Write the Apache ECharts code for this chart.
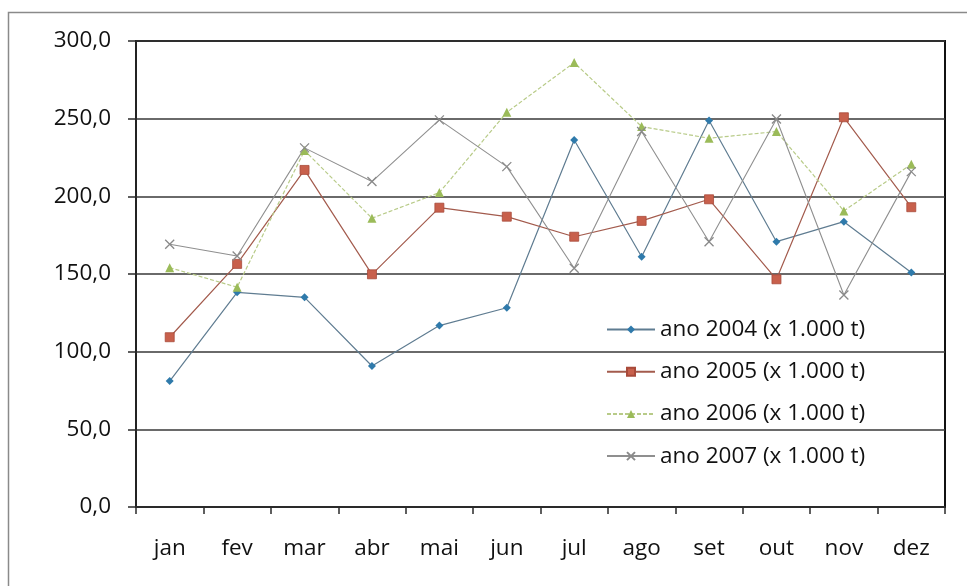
<!DOCTYPE html>
<html>
<head>
<meta charset="utf-8">
<script src="https://cdn.jsdelivr.net/npm/echarts@6/dist/echarts.min.js"></script>
<style>
  html, body { margin: 0; padding: 0; background: #fff; }
  #chart { width: 967px; height: 586px; }
</style>
</head>
<body>
<div id="chart"></div>
<script>
// Monthly volumes, thousands of tonnes
const months = ['jan', 'fev', 'mar', 'abr', 'mai', 'jun', 'jul', 'ago', 'set', 'out', 'nov', 'dez'];
const seriesNames = ['ano 2004 (x 1.000 t)', 'ano 2005 (x 1.000 t)', 'ano 2006 (x 1.000 t)', 'ano 2007 (x 1.000 t)'];
const values2004 = [81.1, 138.2, 135.0, 90.8, 116.8, 128.3, 236.3, 161.1, 248.8, 170.8, 183.7, 150.9];
const values2005 = [109.3, 156.5, 217.0, 149.8, 192.7, 186.9, 174.0, 184.2, 198.1, 146.6, 250.9, 193.0];
const values2006 = [154.1, 141.5, 229.5, 185.9, 202.4, 254.1, 286.1, 244.9, 237.4, 241.7, 190.6, 220.7];
const values2007 = [169.2, 161.6, 231.2, 209.5, 249.2, 219.1, 153.7, 241.7, 170.8, 249.8, 136.5, 215.9];
const yTicks = { min: 0, max: 300, interval: 50 };

const FONT = 'Open Sans';
const FONT_SIZE = 22.5;
const TEXT_COLOR = '#111111';
const fmt = v => v.toFixed(1).replace('.', ',');

const chart = echarts.init(document.getElementById('chart'), null, { renderer: 'canvas' });

chart.setOption({
  animation: false,
  backgroundColor: '#ffffff',
  textStyle: { fontFamily: FONT },
  graphic: [{
    type: 'rect',
    shape: { x: 8.5, y: 12.5, width: 1000, height: 1000 },
    style: { fill: 'none', stroke: '#8a8a8a', lineWidth: 1.5 },
    silent: true,
    z: -1
  }],
  grid: {
    left: 136, right: 22, top: 41, bottom: 79,
    show: true, borderColor: '#111', borderWidth: 2, backgroundColor: 'transparent'
  },
  legend: {
    orient: 'vertical',
    left: 601, top: 313,
    itemWidth: 48, itemHeight: 10, itemGap: 19.2,
    textStyle: { fontFamily: FONT, fontSize: FONT_SIZE, color: TEXT_COLOR, lineHeight: 22 },
    data: seriesNames
  },
  xAxis: {
    type: 'category',
    data: months,
    boundaryGap: true,
    axisLine: { lineStyle: { color: '#2a2a2a', width: 1.5 } },
    axisTick: { show: true, length: 7, lineStyle: { color: '#2a2a2a', width: 1.5 } },
    axisLabel: { fontFamily: FONT, fontSize: FONT_SIZE, color: TEXT_COLOR, margin: 30 },
    splitLine: { show: false }
  },
  yAxis: {
    type: 'value',
    min: yTicks.min, max: yTicks.max, interval: yTicks.interval,
    axisLine: { show: true, lineStyle: { color: '#2a2a2a', width: 1.5 } },
    axisTick: { show: true, length: 8, lineStyle: { color: '#2a2a2a', width: 1.5 } },
    axisLabel: { fontFamily: FONT, fontSize: FONT_SIZE, color: TEXT_COLOR, margin: 25, formatter: fmt },
    splitLine: { show: true, lineStyle: { color: '#383838', width: 1.5 } }
  },
  series: [
    {
      name: seriesNames[0], type: 'line', data: values2004,
      symbol: 'diamond', symbolSize: 8,
      itemStyle: { color: '#2f7aab' },
      lineStyle: { color: '#5f7c91', width: 1.2 }
    },
    {
      name: seriesNames[1], type: 'line', data: values2005,
      symbol: 'rect', symbolSize: 9,
      itemStyle: { color: '#c8604c', borderColor: '#a84a3a', borderWidth: 0.8 },
      lineStyle: { color: '#a35b4d', width: 1.2 }
    },
    {
      name: seriesNames[2], type: 'line', data: values2006,
      symbol: 'triangle', symbolSize: 9,
      itemStyle: { color: '#9bbb59' },
      lineStyle: { color: '#b8cb88', width: 1.2, type: [4, 2] }
    },
    {
      name: seriesNames[3], type: 'line', data: values2007,
      symbol: 'path://M0,0L10,10M10,0L0,10', symbolSize: 9,
      itemStyle: { color: 'rgba(0,0,0,0)', borderColor: '#8a8a8a', borderWidth: 1.3 },
      lineStyle: { color: '#8f8f8f', width: 1.1 }
    }
  ]
});
</script>
</body>
</html>
